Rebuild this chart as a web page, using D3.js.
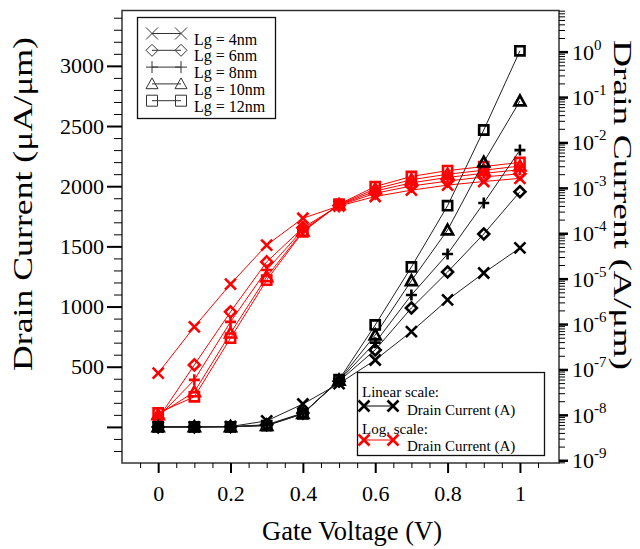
<!DOCTYPE html>
<html>
<head>
<meta charset="utf-8">
<script src="https://cdn.jsdelivr.net/npm/d3@7"></script>
<style>
  body { margin: 0; background: #fff; }
  text { font-family: "Liberation Serif", "Times New Roman", Times, serif; fill: #000; }
</style>
</head>
<body>
<div id="chart"></div>
<script>
// gate voltage (V)
const gateV = [0, 0.1, 0.2, 0.3, 0.4, 0.5, 0.6, 0.7, 0.8, 0.9, 1.0];
const lgNames = ["Lg = 4nm", "Lg = 6nm", "Lg = 8nm", "Lg = 10nm", "Lg = 12nm"];
const lgSymbols = ["cross", "diamond", "plus", "triangle", "square"];

// linear scale drain current (uA/um), left axis
const linLg4  = [0, 0, 3, 50, 190, 360, 556, 792, 1055, 1279, 1487];
const linLg6  = [0, 0, 2, 18, 115, 380, 640, 988, 1287, 1603, 1954];
const linLg8  = [0, 0, 2, 15, 112, 385, 700, 1096, 1437, 1860, 2300];
const linLg10 = [0, 0, 1, 12, 110, 388, 764, 1215, 1636, 2200, 2708];
const linLg12 = [0, 0, 1, 10, 108, 392, 847, 1329, 1838, 2467, 3125];

// log scale drain current (A/um), right axis
const logLg4  = [8.3e-8, 8.7e-7, 7.6e-6, 5.5e-5, 2.14e-4, 3.98e-4, 6.46e-4, 8.9e-4, 1.15e-3, 1.38e-3, 1.62e-3];
const logLg6  = [8.3e-9, 1.26e-7, 1.86e-6, 2.34e-5, 1.32e-4, 4.07e-4, 7.6e-4, 1.10e-3, 1.41e-3, 1.74e-3, 2.04e-3];
const logLg8  = [8.9e-9, 5.9e-8, 1.12e-6, 1.55e-5, 1.20e-4, 4.17e-4, 8.5e-4, 1.29e-3, 1.70e-3, 2.09e-3, 2.51e-3];
const logLg10 = [1.0e-8, 3.2e-8, 6.3e-7, 1.10e-5, 1.12e-4, 4.27e-4, 9.5e-4, 1.51e-3, 2.00e-3, 2.45e-3, 3.02e-3];
const logLg12 = [1.1e-8, 2.5e-8, 4.9e-7, 9.3e-6, 1.07e-4, 4.37e-4, 1.07e-3, 1.78e-3, 2.40e-3, 2.95e-3, 3.63e-3];

const linSeries = [linLg4, linLg6, linLg8, linLg10, linLg12];
const logSeries = [logLg4, logLg6, logLg8, logLg10, logLg12];

// ticks
const xTicks = [0, 0.2, 0.4, 0.6, 0.8, 1];
const yTicks = [0, 500, 1000, 1500, 2000, 2500, 3000];
const logExps = [0, -1, -2, -3, -4, -5, -6, -7, -8, -9];

const width = 640, height = 549;
const plotL = 122, plotR = 559, plotT = 10.5, plotB = 463;

const svg = d3.select("#chart")
    .append("svg")
    .attr("width", width)
    .attr("height", height);

const x = d3.scaleLinear().domain([-0.1, 1.108]).range([plotL, plotR]);
const yLin = d3.scaleLinear().domain([-300, 3460]).range([plotB, plotT]);
const yLog = d3.scaleLog().domain([8.7e-10, 8.07]).range([plotB, plotT]);

// marker shapes
function marker(type, r) {
    switch (type) {
        case "cross": return `M${-r},${-r}L${r},${r}M${-r},${r}L${r},${-r}`;
        case "plus": return `M${-r},0L${r},0M0,${-r}L0,${r}`;
        case "diamond": return `M0,${-r}L${r},0L0,${r}L${-r},0Z`;
        case "triangle": return `M0,${-r}L${r},${r * 0.8}L${-r},${r * 0.8}Z`;
        default: return `M${-r},${-r}H${r}V${r}H${-r}Z`;
    }
}
const markerSize = { cross: 5.5, plus: 5.5, diamond: 5.5, triangle: 5.5, square: 4.6 };

// frame
svg.append("rect")
    .attr("x", plotL).attr("y", plotT)
    .attr("width", plotR - plotL).attr("height", plotB - plotT)
    .attr("fill", "none").attr("stroke", "#333").attr("stroke-width", 1.5);

// left axis (linear)
const yMinor = d3.range(-200, 3460, 100).filter(v => v % 500 !== 0);
svg.append("g")
    .attr("transform", `translate(${plotL},0)`)
    .call(d3.axisLeft(yLin).tickValues(yMinor).tickSize(8).tickFormat(""))
    .call(g => g.select(".domain").remove());
svg.append("g")
    .attr("transform", `translate(${plotL},0)`)
    .call(d3.axisLeft(yLin).tickValues(yTicks).tickSize(15).tickPadding(3)
        .tickFormat(d => d === 0 ? "" : d))
    .call(g => g.select(".domain").remove())
    .call(g => g.selectAll("line").attr("stroke-width", 2))
    .call(g => g.selectAll("text").style("font-size", "22px").style("font-family", "Liberation Serif"));

// bottom axis
const xMinor = d3.range(-0.05, 1.1, 0.05).filter(v => Math.abs(Math.round(v * 5) - v * 5) > 0.01);
svg.append("g")
    .attr("transform", `translate(0,${plotB})`)
    .call(d3.axisBottom(x).tickValues(xMinor).tickSize(5).tickFormat(""))
    .call(g => g.select(".domain").remove());
svg.append("g")
    .attr("transform", `translate(0,${plotB})`)
    .call(d3.axisBottom(x).tickValues(xTicks).tickSize(10).tickPadding(12).tickFormat(d3.format("")))
    .call(g => g.select(".domain").remove())
    .call(g => g.selectAll("line").attr("stroke-width", 2))
    .call(g => g.selectAll("text").style("font-size", "22px").style("font-family", "Liberation Serif"));

// right axis (log)
const logMinor = [];
for (let e = -10; e <= 0; e++) {
    for (let m = 2; m <= 9; m++) {
        const v = m * Math.pow(10, e);
        if (v > 8.7e-10 && v < 8.07) logMinor.push(v);
    }
}
svg.append("g")
    .attr("transform", `translate(${plotR},0)`)
    .call(d3.axisRight(yLog).tickValues(logMinor).tickSize(6).tickFormat(""))
    .call(g => g.select(".domain").remove());
svg.append("g")
    .attr("transform", `translate(${plotR},0)`)
    .call(d3.axisRight(yLog).tickValues(logExps.map(e => Math.pow(10, e))).tickSize(9).tickFormat(""))
    .call(g => g.select(".domain").remove())
    .call(g => g.selectAll("line").attr("stroke-width", 2.5));

const logLabels = svg.append("g").selectAll("text")
    .data(logExps)
    .enter().append("text")
    .attr("x", plotR + 13)
    .attr("y", e => yLog(Math.pow(10, e)) + 8)
    .style("font-size", "22px");
logLabels.append("tspan").text("10");
logLabels.append("tspan").attr("dy", -10).style("font-size", "15px").text(e => e);

// axis titles
svg.append("text")
    .attr("transform", `translate(32,204) rotate(-90)`)
    .attr("text-anchor", "middle")
    .attr("textLength", 334).attr("lengthAdjust", "spacingAndGlyphs")
    .style("font-size", "28px")
    .text("Drain Current (μA/μm)");
svg.append("text")
    .attr("transform", `translate(614,205) rotate(90)`)
    .attr("text-anchor", "middle")
    .attr("textLength", 330).attr("lengthAdjust", "spacingAndGlyphs")
    .style("font-size", "26px")
    .text("Drain Current (A/μm)");
svg.append("text")
    .attr("x", 352).attr("y", 540)
    .attr("text-anchor", "middle")
    .attr("textLength", 180).attr("lengthAdjust", "spacingAndGlyphs")
    .style("font-size", "27px")
    .text("Gate Voltage (V)");

// curves
function drawSeries(series, yScale, color, lineColor) {
    const line = d3.line().x((d, i) => x(gateV[i])).y(d => yScale(d));
    series.forEach((vals, k) => {
        svg.append("path")
            .datum(vals)
            .attr("d", line)
            .attr("fill", "none")
            .attr("stroke", lineColor)
            .attr("stroke-width", 1);
    });
    series.forEach((vals, k) => {
        const sym = lgSymbols[k];
        svg.append("g").selectAll("path")
            .data(vals)
            .enter().append("path")
            .attr("transform", (d, i) => `translate(${x(gateV[i])},${yScale(d)})`)
            .attr("d", marker(sym, markerSize[sym]))
            .attr("fill", "none")
            .attr("stroke", color)
            .attr("stroke-width", 2.6);
    });
}
drawSeries(logSeries, yLog, "#ff0000", "#ff0000");
drawSeries(linSeries, yLin, "#000", "#222");

// top-left legend
const leg = svg.append("g");
leg.append("rect")
    .attr("x", 137.5).attr("y", 17.5).attr("width", 138).attr("height", 101)
    .attr("fill", "#fff").attr("stroke", "#111").attr("stroke-width", 1.3);
lgNames.forEach((name, k) => {
    const base = 44.5 + k * 16.8;
    const my = base - 11;
    leg.append("line").attr("x1", 152).attr("x2", 181).attr("y1", my).attr("y2", my)
        .attr("stroke", "#333").attr("stroke-width", 1);
    [152, 181].forEach(mx => {
        leg.append("path")
            .attr("transform", `translate(${mx},${my})`)
            .attr("d", marker(lgSymbols[k], lgSymbols[k] === "square" ? 5.5 : 6))
            .attr("fill", "none").attr("stroke", "#333").attr("stroke-width", 1);
    });
    leg.append("text").attr("x", 194).attr("y", base).style("font-size", "16px").text(name);
});

// bottom-right legend
const leg2 = svg.append("g");
leg2.append("rect")
    .attr("x", 357.5).attr("y", 372.5).attr("width", 187).attr("height", 83)
    .attr("fill", "#fff").attr("stroke", "#111").attr("stroke-width", 1.3);
[["Linear scale:", "#000", 396.5, 406, 415], ["Log. scale:", "#ff0000", 433.5, 440, 450.5]].forEach(([label, col, ty, my, ty2]) => {
    leg2.append("text").attr("x", 362).attr("y", ty).style("font-size", "15px").text(label);
    leg2.append("line").attr("x1", 364).attr("x2", 393).attr("y1", my).attr("y2", my)
        .attr("stroke", col).attr("stroke-width", 1);
    [364, 393].forEach(mx => {
        leg2.append("path")
            .attr("transform", `translate(${mx},${my})`)
            .attr("d", marker("cross", 5.5))
            .attr("fill", "none").attr("stroke", col).attr("stroke-width", 2.6);
    });
    leg2.append("text").attr("x", 407).attr("y", ty2).style("font-size", "15px").text("Drain Current (A)");
});
</script>
</body>
</html>
